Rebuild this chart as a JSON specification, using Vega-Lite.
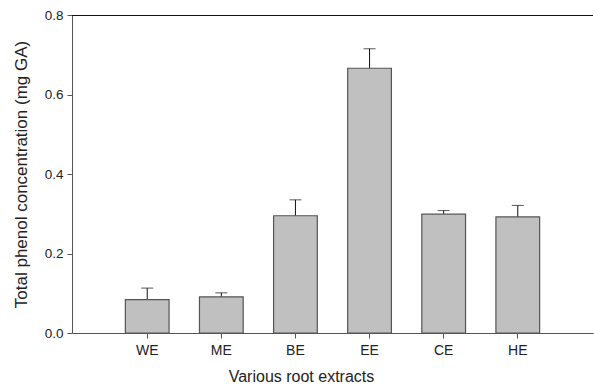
{
  "$schema": "https://vega.github.io/schema/vega-lite/v6.json",
  "width": 521,
  "height": 318,
  "autosize": {"type": "none"},
  "padding": {"left": 72, "top": 15, "right": 1, "bottom": 55},
  "config": {
    "view": {"stroke": null},
    "font": "Liberation Sans",
    "axis": {"grid": false, "domainColor": "#555555", "tickColor": "#555555", "labelColor": "#222222", "titleColor": "#222222", "labelFont": "Liberation Sans", "titleFont": "Liberation Sans", "titleFontWeight": "normal"}
  },
  "data": {"values": [
    {"extract": "WE", "mean": 0.084, "upper": 0.113},
    {"extract": "ME", "mean": 0.091, "upper": 0.101},
    {"extract": "BE", "mean": 0.295, "upper": 0.335},
    {"extract": "EE", "mean": 0.666, "upper": 0.715},
    {"extract": "CE", "mean": 0.299, "upper": 0.308},
    {"extract": "HE", "mean": 0.292, "upper": 0.321}
  ]},
  "encoding": {
    "x": {"field": "extract", "type": "nominal", "sort": null,
      "scale": {"paddingInner": 0.41, "paddingOuter": 0.72},
      "axis": {"title": "Various root extracts", "labelAngle": 0, "labelAlign": "center", "labelFontSize": 14, "titleFontSize": 16, "tickSize": 5, "labelPadding": 5, "titlePadding": 11, "titleX": 229, "titleAnchor": "middle"}}
  },
  "layer": [
    {
      "mark": {"type": "rule", "color": "#111111", "strokeWidth": 1},
      "encoding": {
        "y": {"field": "mean", "type": "quantitative"}, "y2": {"field": "upper"}}
    },
    {
      "mark": {"type": "tick", "color": "#111111", "size": 12, "thickness": 1},
      "encoding": {
        "y": {"field": "upper", "type": "quantitative"}}
    },
    {
      "mark": {"type": "bar", "fill": "#c0c0c0", "stroke": "#555555", "strokeWidth": 1.2},
      "encoding": {
        "y": {"field": "mean", "type": "quantitative",
          "scale": {"domain": [0, 0.8], "nice": false},
          "axis": {"title": "Total phenol concentration (mg GA)", "values": [0, 0.2, 0.4, 0.6, 0.8], "format": ".1f", "labelFontSize": 13.5, "titleFontSize": 17, "tickSize": 5, "labelPadding": 4, "titlePadding": 14}}
      }
    },
    {
      "mark": {"type": "rule", "color": "#111111", "strokeWidth": 1, "yOffset": 0.5},
      "encoding": {"x": {"value": 0}, "x2": {"value": "width"}, "y": {"datum": 0.8}}
    }
  ]
}
